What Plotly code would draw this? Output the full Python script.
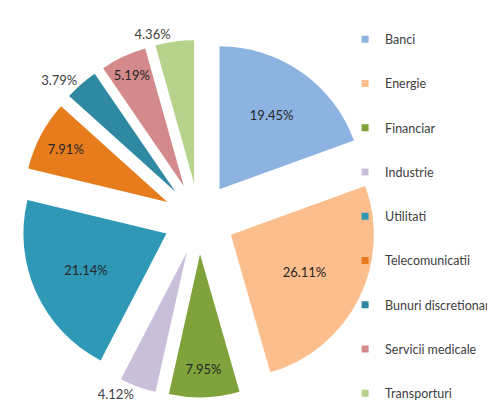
import plotly.graph_objects as go

categories = ["Banci", "Energie", "Financiar", "Industrie", "Utilitati",
              "Telecomunicatii", "Bunuri discretionare", "Servicii medicale", "Transporturi"]
values = [19.45, 26.11, 7.95, 4.12, 21.14, 7.91, 3.79, 5.19, 4.36]
colors = ["#8DB3E2", "#FBBE8C", "#7FA33A", "#C9BFDB", "#2E98B6",
          "#E67C1C", "#3089A2", "#D48A8B", "#B7D38B"]
text_pos = ["inside", "inside", "inside", "outside", "inside",
            "inside", "outside", "inside", "outside"]
labels_txt = [f"{v:.2f}%" for v in values]

fig = go.Figure()
fig.add_trace(go.Pie(
    labels=categories, values=values, sort=False, direction="clockwise",
    rotation=0, pull=[0.25] * len(values),
    marker=dict(colors=colors, line=dict(width=0)),
    text=labels_txt, textinfo="text", textposition=text_pos,
    insidetextorientation="horizontal",
    textfont=dict(family="Lato", size=13, color="#262626"),
    outsidetextfont=dict(family="Lato", size=13, color="#404040"),
    domain=dict(x=[0.0247, 0.747], y=[0.0329, 0.9218]),
    showlegend=False, hoverinfo="label+percent",
))
for c, col in zip(categories, colors):
    fig.add_trace(go.Scatter(
        x=[None], y=[None], mode="markers", name=c, legendgroup=c,
        marker=dict(symbol="square", size=7, color=col),
    ))

fig.update_layout(
    width=495, height=403,
    margin=dict(l=0, r=0, t=0, b=0, autoexpand=False),
    paper_bgcolor="white", plot_bgcolor="white",
    xaxis=dict(visible=False), yaxis=dict(visible=False),
    uniformtext=dict(mode="show", minsize=13),
    legend=dict(x=0.681, xanchor="left", y=0.959, yanchor="top",
                font=dict(family="Lato", size=12.5, color="#404040"),
                tracegroupgap=25, bgcolor="rgba(0,0,0,0)"),
)
fig.write_html("out.html")
